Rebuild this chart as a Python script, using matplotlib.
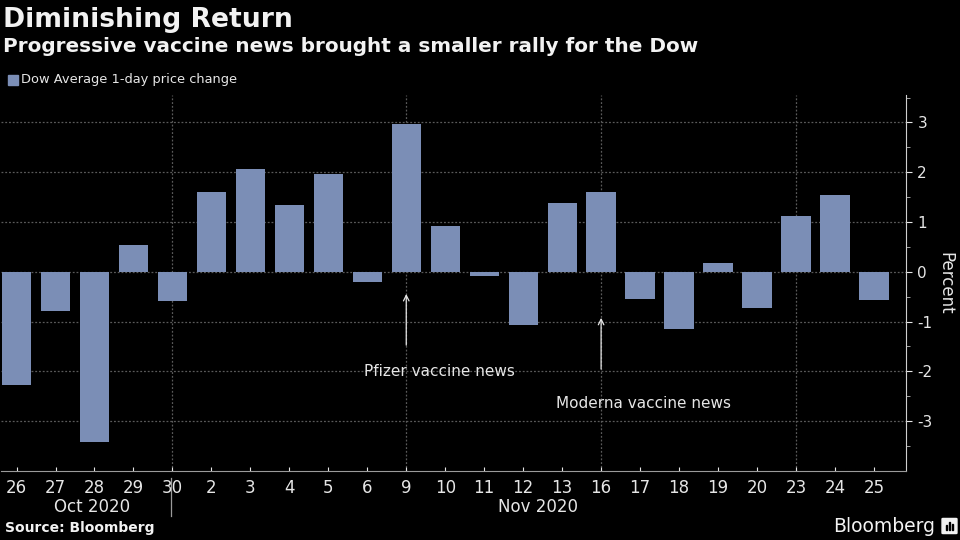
import matplotlib.pyplot as plt
import numpy as np
from matplotlib.patches import Rectangle, FancyBboxPatch

# data
days = ['26', '27', '28', '29', '30', '2', '3', '4', '5', '6', '9', '10', '11',
        '12', '13', '16', '17', '18', '19', '20', '23', '24', '25']
change = [-2.28, -0.79, -3.42, 0.53, -0.59, 1.60, 2.07, 1.35, 1.96, -0.21, 2.96,
          0.91, -0.08, -1.06, 1.38, 1.60, -0.55, -1.15, 0.17, -0.73, 1.12, 1.54, -0.57]
week_lines = [4, 10, 15, 20]
yticks = [-3, -2, -1, 0, 1, 2, 3]

bg = 'black'
bar_col = '#7b8eb6'
txt = '#e6e6e6'
grid_col = '#5a5a5a'

plt.rcParams['font.family'] = ['DejaVu Sans']

fig = plt.figure(figsize=(9.6, 5.4), dpi=100, facecolor=bg)
ax = fig.add_axes([0.001, 0.128, 0.943, 0.696], facecolor=bg)

x = np.arange(len(days))
ax.bar(x, change, width=0.75, color=bar_col, zorder=3)

ax.set_xlim(-0.4, 22.83)
ax.set_ylim(-4, 3.55)

# grid
for yv in yticks:
    ax.axhline(yv, color=grid_col, lw=0.9, ls=(0, (1.5, 1.5)), zorder=1)
for xv in week_lines:
    ax.axvline(xv, color=grid_col, lw=0.9, ls=(0, (1.5, 1.5)), zorder=1)

# axes styling
for s in ['left', 'top']:
    ax.spines[s].set_visible(False)
ax.spines['right'].set_color('#cfcfcf')
ax.spines['bottom'].set_color('#9a9a9a')
ax.yaxis.tick_right()
ax.yaxis.set_label_position('right')
ax.set_yticks(yticks)
ax.set_yticks(np.arange(-3.5, 3.6, 1.0), minor=True)
ax.tick_params(axis='y', which='major', colors=txt, labelsize=11, length=4,
               direction='out', pad=4)
ax.tick_params(axis='y', which='minor', colors='#bbbbbb', length=3, direction='out')
ax.set_yticklabels([str(v) for v in yticks])
ax.set_ylabel('Percent', color=txt, fontsize=12, rotation=270, labelpad=16)

ax.set_xticks(x)
ax.set_xticklabels(days)
ax.tick_params(axis='x', colors=txt, labelsize=12, length=3, direction='in', pad=6)
for lab in ax.get_xticklabels():
    lab.set_color(txt)

# annotations
ax.annotate('', xy=(10, -0.39), xytext=(10, -1.53),
            arrowprops=dict(arrowstyle='->', color=txt, lw=0.9))
ax.text(10.86, -2.0, 'Pfizer vaccine news', color=txt, fontsize=11,
        ha='center', va='center')
ax.annotate('', xy=(15, -0.87), xytext=(15, -2.01),
            arrowprops=dict(arrowstyle='->', color=txt, lw=0.9))
ax.text(16.08, -2.64, 'Moderna vaccine news', color=txt, fontsize=11,
        ha='center', va='center')

# month labels
fig.text(92 / 960, 1 - 507 / 540, 'Oct 2020', color=txt, fontsize=12,
         ha='center', va='center')
fig.text(538 / 960, 1 - 507 / 540, 'Nov 2020', color=txt, fontsize=12,
         ha='center', va='center')
fig.add_artist(plt.Line2D([171 / 960, 171 / 960], [1 - 478 / 540, 1 - 516 / 540],
                          color='#9a9a9a', lw=0.9))

# titles
fig.text(3 / 960, 1 - 20 / 540, 'Diminishing Return', color='#f2f2f2',
         fontsize=19.2, fontweight='bold', ha='left', va='center')
fig.text(3 / 960, 1 - 47 / 540, 'Progressive vaccine news brought a smaller rally for the Dow',
         color='#f2f2f2', fontsize=14.4, fontweight='bold', ha='left', va='center')

# legend
fig.add_artist(Rectangle((8 / 960, 1 - 85 / 540), 10 / 960, 10 / 540,
                         transform=fig.transFigure, color=bar_col))
fig.text(21 / 960, 1 - 80 / 540, 'Dow Average 1-day price change', color=txt,
         fontsize=9.4, ha='left', va='center')

# footer
fig.text(5 / 960, 1 - 528 / 540, 'Source: Bloomberg', color='#f2f2f2',
         fontsize=10, fontweight='bold', ha='left', va='center')
fig.text(935 / 960, 1 - 526 / 540, 'Bloomberg', color='#f2f2f2',
         fontsize=13.5, ha='right', va='center')
fig.add_artist(FancyBboxPatch((943 / 960, 1 - 533 / 540), 13 / 960, 14 / 540,
                              boxstyle='round,pad=0.001', transform=fig.transFigure,
                              color='#f2f2f2'))
for i, h in enumerate([5, 8, 6]):
    fig.add_artist(Rectangle(((946 + i * 2.8) / 960, 1 - 530 / 540), 1.4 / 960, h / 540,
                             transform=fig.transFigure, color='black'))

fig.savefig('out.png', dpi=100, facecolor=bg)
